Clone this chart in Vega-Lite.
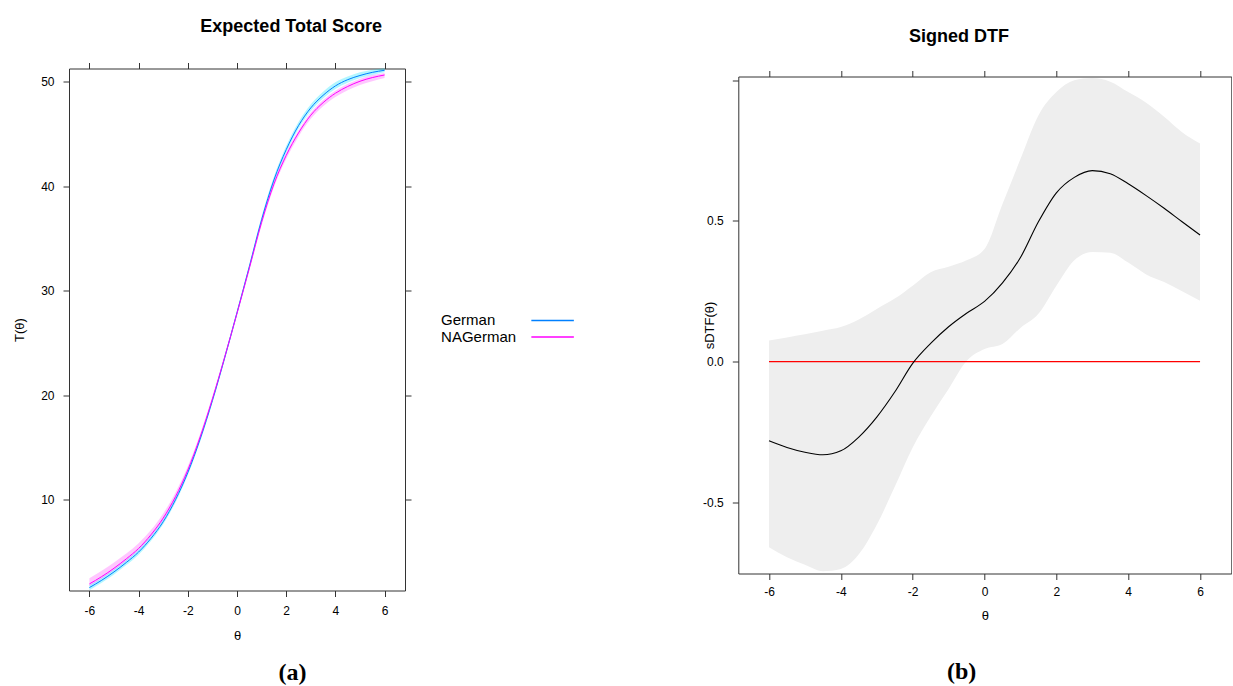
{
  "$schema": "https://vega.github.io/schema/vega-lite/v6.json",
  "background": "white",
  "padding": {"left": 13, "top": 17.5, "right": 0, "bottom": 0},
  "spacing": 289.3,
  "config": {
    "font": "Liberation Sans",
    "view": {"stroke": "#333333", "strokeWidth": 1},
    "axis": {"grid": false, "domain": false, "tickColor": "#333333", "tickSize": 6, "labelFont": "Liberation Sans", "labelFontSize": 12, "labelColor": "#000000", "labelFlush": false, "titleFont": "Liberation Sans", "titleFontSize": 13, "titleFontWeight": "normal", "titleColor": "#000000"},
    "title": {"font": "Liberation Sans", "color": "#000000"}
  },
  "datasets": {
    "ets": [
      {"theta": -6, "group": "German", "T": 1.6, "lo": 1.35, "hi": 1.85},
      {"theta": -5.5, "group": "German", "T": 2.3, "lo": 2.05, "hi": 2.55},
      {"theta": -5, "group": "German", "T": 3.1, "lo": 2.85, "hi": 3.35},
      {"theta": -4.5, "group": "German", "T": 4.0, "lo": 3.75, "hi": 4.25},
      {"theta": -4, "group": "German", "T": 5.0, "lo": 4.75, "hi": 5.25},
      {"theta": -3.5, "group": "German", "T": 6.3, "lo": 6.05, "hi": 6.55},
      {"theta": -3, "group": "German", "T": 7.9, "lo": 7.65, "hi": 8.15},
      {"theta": -2.5, "group": "German", "T": 10.0, "lo": 9.75, "hi": 10.25},
      {"theta": -2, "group": "German", "T": 12.6, "lo": 12.35, "hi": 12.85},
      {"theta": -1.5, "group": "German", "T": 15.8, "lo": 15.55, "hi": 16.05},
      {"theta": -1, "group": "German", "T": 19.5, "lo": 19.25, "hi": 19.75},
      {"theta": -0.5, "group": "German", "T": 23.6, "lo": 23.35, "hi": 23.85},
      {"theta": 0, "group": "German", "T": 27.9, "lo": 27.65, "hi": 28.15},
      {"theta": 0.5, "group": "German", "T": 32.3, "lo": 32.05, "hi": 32.55},
      {"theta": 1, "group": "German", "T": 36.8, "lo": 36.5, "hi": 37.1},
      {"theta": 1.5, "group": "German", "T": 40.6, "lo": 40.3, "hi": 40.9},
      {"theta": 2, "group": "German", "T": 43.5, "lo": 43.2, "hi": 43.85},
      {"theta": 2.5, "group": "German", "T": 45.8, "lo": 45.5, "hi": 46.15},
      {"theta": 3, "group": "German", "T": 47.5, "lo": 47.2, "hi": 47.85},
      {"theta": 3.5, "group": "German", "T": 48.7, "lo": 48.4, "hi": 49.05},
      {"theta": 4, "group": "German", "T": 49.6, "lo": 49.3, "hi": 49.95},
      {"theta": 4.5, "group": "German", "T": 50.2, "lo": 49.9, "hi": 50.5},
      {"theta": 5, "group": "German", "T": 50.6, "lo": 50.35, "hi": 50.9},
      {"theta": 5.5, "group": "German", "T": 50.9, "lo": 50.65, "hi": 51.15},
      {"theta": 6, "group": "German", "T": 51.1, "lo": 50.9, "hi": 51.3},
      {"theta": -6, "group": "NAGerman", "T": 1.95, "lo": 1.75, "hi": 2.5},
      {"theta": -5.5, "group": "NAGerman", "T": 2.65, "lo": 2.45, "hi": 3.2},
      {"theta": -5, "group": "NAGerman", "T": 3.45, "lo": 3.25, "hi": 4.0},
      {"theta": -4.5, "group": "NAGerman", "T": 4.35, "lo": 4.15, "hi": 4.85},
      {"theta": -4, "group": "NAGerman", "T": 5.35, "lo": 5.15, "hi": 5.85},
      {"theta": -3.5, "group": "NAGerman", "T": 6.65, "lo": 6.45, "hi": 7.1},
      {"theta": -3, "group": "NAGerman", "T": 8.25, "lo": 8.05, "hi": 8.7},
      {"theta": -2.5, "group": "NAGerman", "T": 10.3, "lo": 10.1, "hi": 10.7},
      {"theta": -2, "group": "NAGerman", "T": 12.85, "lo": 12.65, "hi": 13.2},
      {"theta": -1.5, "group": "NAGerman", "T": 16.0, "lo": 15.8, "hi": 16.3},
      {"theta": -1, "group": "NAGerman", "T": 19.65, "lo": 19.4, "hi": 19.9},
      {"theta": -0.5, "group": "NAGerman", "T": 23.65, "lo": 23.4, "hi": 23.9},
      {"theta": 0, "group": "NAGerman", "T": 27.85, "lo": 27.6, "hi": 28.1},
      {"theta": 0.5, "group": "NAGerman", "T": 32.15, "lo": 31.9, "hi": 32.4},
      {"theta": 1, "group": "NAGerman", "T": 36.55, "lo": 36.25, "hi": 36.8},
      {"theta": 1.5, "group": "NAGerman", "T": 40.2, "lo": 39.9, "hi": 40.45},
      {"theta": 2, "group": "NAGerman", "T": 42.95, "lo": 42.6, "hi": 43.2},
      {"theta": 2.5, "group": "NAGerman", "T": 45.1, "lo": 44.75, "hi": 45.35},
      {"theta": 3, "group": "NAGerman", "T": 46.8, "lo": 46.45, "hi": 47.05},
      {"theta": 3.5, "group": "NAGerman", "T": 48.0, "lo": 47.65, "hi": 48.25},
      {"theta": 4, "group": "NAGerman", "T": 48.9, "lo": 48.55, "hi": 49.15},
      {"theta": 4.5, "group": "NAGerman", "T": 49.55, "lo": 49.2, "hi": 49.8},
      {"theta": 5, "group": "NAGerman", "T": 50.05, "lo": 49.7, "hi": 50.3},
      {"theta": 5.5, "group": "NAGerman", "T": 50.4, "lo": 50.05, "hi": 50.65},
      {"theta": 6, "group": "NAGerman", "T": 50.65, "lo": 50.35, "hi": 50.85}
    ],
    "dtf": [
      {"theta": -6, "est": -0.281, "lo": -0.66, "hi": 0.075},
      {"theta": -5.5, "est": -0.305, "lo": -0.695, "hi": 0.086},
      {"theta": -5, "est": -0.322, "lo": -0.722, "hi": 0.097},
      {"theta": -4.5, "est": -0.331, "lo": -0.745, "hi": 0.11},
      {"theta": -4, "est": -0.317, "lo": -0.737, "hi": 0.123},
      {"theta": -3.5, "est": -0.268, "lo": -0.685, "hi": 0.15},
      {"theta": -3, "est": -0.197, "lo": -0.58, "hi": 0.187},
      {"theta": -2.5, "est": -0.108, "lo": -0.445, "hi": 0.224},
      {"theta": -2, "est": -0.006, "lo": -0.305, "hi": 0.27},
      {"theta": -1.5, "est": 0.065, "lo": -0.195, "hi": 0.318},
      {"theta": -1, "est": 0.124, "lo": -0.097, "hi": 0.337},
      {"theta": -0.5, "est": 0.172, "lo": 0.002, "hi": 0.36},
      {"theta": 0, "est": 0.214, "lo": 0.045, "hi": 0.4},
      {"theta": 0.5, "est": 0.28, "lo": 0.063, "hi": 0.56},
      {"theta": 1, "est": 0.37, "lo": 0.12, "hi": 0.72},
      {"theta": 1.5, "est": 0.497, "lo": 0.17, "hi": 0.875},
      {"theta": 2, "est": 0.6, "lo": 0.27, "hi": 0.958},
      {"theta": 2.5, "est": 0.655, "lo": 0.36, "hi": 1.0},
      {"theta": 3, "est": 0.679, "lo": 0.39, "hi": 1.008},
      {"theta": 3.5, "est": 0.668, "lo": 0.387, "hi": 0.995},
      {"theta": 4, "est": 0.632, "lo": 0.352, "hi": 0.958},
      {"theta": 4.5, "est": 0.59, "lo": 0.31, "hi": 0.92},
      {"theta": 5, "est": 0.545, "lo": 0.283, "hi": 0.87},
      {"theta": 5.5, "est": 0.497, "lo": 0.25, "hi": 0.815},
      {"theta": 6, "est": 0.45, "lo": 0.216, "hi": 0.775}
    ],
    "zero": [
      {"theta": -6, "v": 0},
      {"theta": 6, "v": 0}
    ]
  },
  "hconcat": [
    {
      "title": {"text": "(a)", "orient": "bottom", "font": "Liberation Serif", "fontSize": 24, "fontWeight": "bold", "anchor": "middle", "frame": "bounds", "offset": 18, "dx": 80},
      "spacing": 0,
      "vconcat": [
        {
          "title": {"text": "Expected Total Score", "fontSize": 18, "fontWeight": "bold", "anchor": "middle", "frame": "group", "offset": 24.2, "dx": 54.2},
          "width": 336,
          "height": 1,
          "view": {"stroke": null},
          "data": {"values": []},
          "mark": {"type": "point", "opacity": 0},
          "encoding": {}
        },
        {
          "width": 336,
          "height": 522,
          "data": {"name": "ets"},
          "resolve": {"axis": {"x": "independent", "y": "independent"}},
          "layer": [
            {
              "transform": [{"filter": "datum.group === 'German'"}],
              "mark": {"type": "area", "interpolate": "monotone", "color": "#00e0ff", "fillOpacity": 0.3},
              "encoding": {
                "x": {"field": "theta", "type": "quantitative", "scale": {"domain": [-6.83, 6.83], "nice": false, "zero": false}, "axis": {"orient": "bottom", "values": [-6, -4, -2, 0, 2, 4, 6], "labelExpr": "'' + datum.value", "title": "θ", "labelPadding": 9, "titlePadding": 12.5}},
                "y": {"field": "lo", "type": "quantitative", "scale": {"domain": [1.32, 51.27], "nice": false, "zero": false}, "axis": {"orient": "left", "values": [10, 20, 30, 40, 50], "title": "T(θ)", "labelPadding": 9, "titlePadding": 14}},
                "y2": {"field": "hi"}
              }
            },
            {
              "transform": [{"filter": "datum.group === 'NAGerman'"}],
              "mark": {"type": "area", "interpolate": "monotone", "color": "#ff00ff", "fillOpacity": 0.22},
              "encoding": {
                "x": {"field": "theta", "type": "quantitative", "axis": null},
                "y": {"field": "lo", "type": "quantitative", "axis": null},
                "y2": {"field": "hi"}
              }
            },
            {
              "mark": {"type": "line", "interpolate": "monotone", "strokeWidth": 1},
              "encoding": {
                "x": {"field": "theta", "type": "quantitative", "axis": {"orient": "top", "values": [-6, -4, -2, 0, 2, 4, 6], "labels": false, "title": null}},
                "y": {"field": "T", "type": "quantitative", "axis": {"orient": "right", "values": [10, 20, 30, 40, 50], "labels": false, "title": null}},
                "color": {"field": "group", "type": "nominal", "scale": {"domain": ["German", "NAGerman"], "range": ["#0080ff", "#ff00ff"]}, "legend": {"orient": "none", "legendX": 476.1, "legendY": 252.4, "title": null, "symbolType": "M-4,0H4", "symbolSize": 113, "symbolStrokeWidth": 1.5, "labelFontSize": 15, "labelOffset": -119, "rowPadding": 0.5, "labelColor": "#000000", "labelFont": "Liberation Sans"}}
              }
            }
          ]
        }
      ]
    },
    {
      "title": {"text": "(b)", "orient": "bottom", "font": "Liberation Serif", "fontSize": 24, "fontWeight": "bold", "anchor": "middle", "frame": "bounds", "offset": 37, "dx": -5.3},
      "spacing": 0,
      "vconcat": [
        {
          "title": {"text": "Signed DTF", "fontSize": 18, "fontWeight": "bold", "anchor": "middle", "frame": "group", "offset": 14.2, "dx": -25.8},
          "width": 493,
          "height": 9,
          "view": {"stroke": null},
          "data": {"values": []},
          "mark": {"type": "point", "opacity": 0},
          "encoding": {}
        },
        {
          "width": 493,
          "height": 497,
          "resolve": {"axis": {"x": "independent", "y": "independent"}},
          "layer": [
            {
              "data": {"name": "dtf"},
              "mark": {"type": "area", "interpolate": "monotone", "color": "#eeeeee"},
              "encoding": {
                "x": {"field": "theta", "type": "quantitative", "scale": {"domain": [-6.855, 6.87], "nice": false, "zero": false}, "axis": {"orient": "bottom", "values": [-6, -4, -2, 0, 2, 4, 6], "labelExpr": "'' + datum.value", "title": "θ", "labelPadding": 6.5, "titlePadding": 12.5}},
                "y": {"field": "lo", "type": "quantitative", "scale": {"domain": [-0.753, 1.0135], "nice": false, "zero": false}, "axis": {"orient": "left", "values": [-0.5, 0, 0.5, 1], "labelExpr": "datum.value == 1 ? '' : (datum.value < 0 ? '-' + format(-datum.value, '.1f') : format(datum.value, '.1f'))", "title": "sDTF(θ)", "labelPadding": 9, "titlePadding": -14}},
                "y2": {"field": "hi"}
              }
            },
            {
              "data": {"name": "zero"},
              "mark": {"type": "line", "color": "#ff0000", "strokeWidth": 1.3},
              "encoding": {
                "x": {"field": "theta", "type": "quantitative", "axis": null},
                "y": {"field": "v", "type": "quantitative", "axis": null}
              }
            },
            {
              "data": {"name": "dtf"},
              "mark": {"type": "line", "interpolate": "monotone", "color": "#000000", "strokeWidth": 1.1},
              "encoding": {
                "x": {"field": "theta", "type": "quantitative", "axis": {"orient": "top", "values": [-6, -4, -2, 0, 2, 4, 6], "labels": false, "title": null}},
                "y": {"field": "est", "type": "quantitative", "axis": null}
              }
            }
          ]
        }
      ]
    }
  ]
}
